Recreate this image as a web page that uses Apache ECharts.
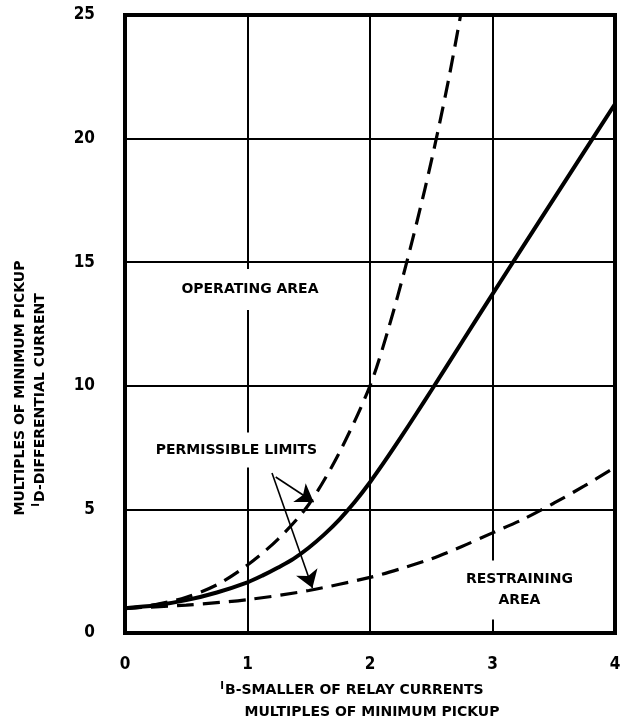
<!DOCTYPE html>
<html>
<head>
<meta charset="utf-8">
<script src="https://cdn.jsdelivr.net/npm/echarts@6/dist/echarts.min.js"></script>
<style>
html,body{margin:0;padding:0;background:#fff;}
#chart{width:630px;height:725px;}
</style>
</head>
<body>
<div id="chart"></div>
<script>
// ---- data ----
const xTicks = [0, 1, 2, 3, 4];
const yTicks = [0, 5, 10, 15, 20, 25];
const solidCurve = [[0,1.0],[0.25,1.12],[0.5,1.33],[0.75,1.64],[1,2.05],[1.125,2.33],[1.25,2.65],[1.375,3.0],[1.5,3.45],[1.625,3.98],[1.75,4.59],[1.875,5.3],[2,6.1],[2.125,6.98],[2.25,7.9],[2.375,8.85],[2.5,9.81],[2.75,11.76],[3,13.71],[3.25,15.64],[3.5,17.56],[3.75,19.48],[4,21.4]];
const upperLimit = [[0,1.0],[0.25,1.15],[0.5,1.45],[0.75,1.95],[1,2.75],[1.25,3.8],[1.5,5.2],[1.75,7.3],[2,10.0],[2.15,12.3],[2.3,15.0],[2.45,18.0],[2.55,20.2],[2.65,22.6],[2.74,25]];
const lowerLimit = [[0,1.0],[0.5,1.13],[1,1.35],[1.5,1.72],[2,2.25],[2.25,2.6],[2.5,3.0],[2.75,3.5],[3,4.05],[3.25,4.6],[3.5,5.25],[3.75,5.95],[4,6.7]];
const arrows = [[[1.23,6.31],[1.54,5.3]], [[1.20,6.47],[1.53,1.82]]];
const annotations = [
  {text:'OPERATING AREA', at:[1.02,13.9], pad:[10,4,10,4]},
  {text:'PERMISSIBLE LIMITS', at:[0.91,7.4], pad:[6,4,8,4]},
  {text:'RESTRAINING\nAREA', at:[3.22,1.74], pad:[7,4,10,4]}
];
const xTitle = ['B-SMALLER OF RELAY CURRENTS', 'MULTIPLES OF MINIMUM PICKUP'];
const yTitle = ['MULTIPLES OF MINIMUM PICKUP', 'D-DIFFERENTIAL CURRENT'];

const FONT = '"DejaVu Sans", sans-serif';
const NUMFONT = '"DejaVu Sans Condensed", "DejaVu Sans", sans-serif';
const chart = echarts.init(document.getElementById('chart'));

chart.setOption({
  animation: false,
  backgroundColor: '#fff',
  grid: {left:125, top:15, right:15, bottom:92, show:true, borderColor:'#000', borderWidth:4, backgroundColor:'transparent'},
  xAxis: {
    type:'value', min:0, max:4, interval:1,
    axisLine:{show:false}, axisTick:{show:false},
    splitLine:{show:true, lineStyle:{color:'#000', width:2}},
    axisLabel:{margin:23, fontFamily:NUMFONT, fontWeight:'bold', fontSize:17, color:'#000',
      formatter: v => xTicks.includes(v) ? String(v) : ''}
  },
  yAxis: {
    type:'value', min:0, max:25, interval:5,
    axisLine:{show:false}, axisTick:{show:false},
    splitLine:{show:true, lineStyle:{color:'#000', width:2}},
    axisLabel:{margin:30, fontFamily:NUMFONT, fontWeight:'bold', fontSize:17, color:'#000',
      formatter: v => yTicks.includes(v) ? String(v) : ''}
  },
  series: [
    {type:'scatter', symbolSize:1, itemStyle:{color:'#fff', opacity:1}, z:3,
      data: annotations.map(a => ({value:a.at, label:{show:true, position:'inside', formatter:a.text,
        align:'center', verticalAlign:'middle', fontFamily:FONT, fontWeight:'bold', fontSize:14, color:'#000',
        opacity:1, lineHeight:21, backgroundColor:'#fff', padding:a.pad}})),
      silent:true},
    {type:'line', data:upperLimit, smooth:0.3, symbol:'none', z:4,
      lineStyle:{color:'#000', width:3.2, type:[17,9]}},
    {type:'line', data:lowerLimit, smooth:0.3, symbol:'none', z:4,
      lineStyle:{color:'#000', width:3.2, type:[17,9]}},
    {type:'line', data:solidCurve, smooth:0.3, symbol:'none', z:5,
      lineStyle:{color:'#000', width:4}},
    {type:'lines', coordinateSystem:'cartesian2d', z:6,
      symbol:['none','arrow'], symbolSize:[8,17],
      lineStyle:{color:'#000', width:1.6, opacity:1, curveness:0},
      data: arrows.map(a => ({coords:a}))}
  ],
  graphic: [
    {type:'text', x:352, y:690, style:{text:'{a|I}{b|'+xTitle[0]+'}', align:'center', verticalAlign:'middle',
      rich:{a:{fontFamily:FONT, fontWeight:'bold', fontSize:10, padding:[0,1,8,0], fill:'#000'},
            b:{fontFamily:FONT, fontWeight:'bold', fontSize:14, fill:'#000'}}}},
    {type:'text', x:372, y:712, style:{text:xTitle[1], align:'center', verticalAlign:'middle',
      fontFamily:FONT, fontWeight:'bold', fontSize:14, fill:'#000'}},
    {type:'text', x:20, y:388, rotation:Math.PI/2, style:{text:yTitle[0], align:'center', verticalAlign:'middle',
      fontFamily:FONT, fontWeight:'bold', fontSize:14, fill:'#000'}},
    {type:'text', x:40, y:400, rotation:Math.PI/2, style:{text:'{a|I}{b|'+yTitle[1]+'}', align:'center', verticalAlign:'middle',
      rich:{a:{fontFamily:FONT, fontWeight:'bold', fontSize:10, padding:[0,1,8,0], fill:'#000'},
            b:{fontFamily:FONT, fontWeight:'bold', fontSize:14, fill:'#000'}}}}
  ]
});
</script>
</body>
</html>
